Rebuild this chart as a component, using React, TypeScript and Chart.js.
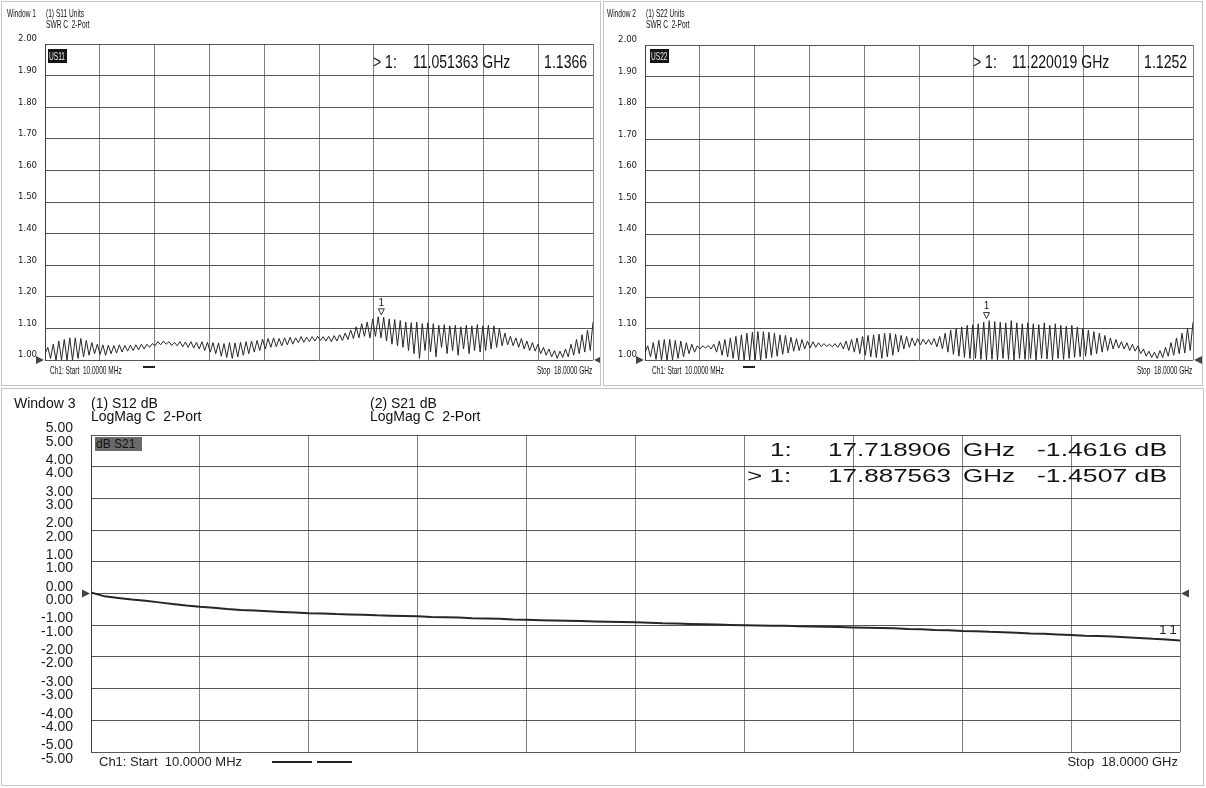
import React, { useEffect, useRef } from "react";
import { Chart, registerables } from "chart.js";
Chart.register(...registerables);

// ---- sweep ----
const START_GHZ = 0.01;
const STOP_GHZ = 18;

// ---- tick labels ----
const swrTickValues = [1.0, 1.1, 1.2, 1.3, 1.4, 1.5, 1.6, 1.7, 1.8, 1.9, 2.0];
const swrTickLabels = ["1.00", "1.10", "1.20", "1.30", "1.40", "1.50", "1.60", "1.70", "1.80", "1.90", "2.00"];
const dbTickValues = [-5, -4, -3, -2, -1, 0, 1, 2, 3, 4, 5];
const dbTickLabels = ["-5.00", "-4.00", "-3.00", "-2.00", "-1.00", "0.00", "1.00", "2.00", "3.00", "4.00", "5.00"];

// ---- Window 1 : S11 SWR (trough/peak pairs, 10 cycles per division) ----
const s11Swr = [
  1.02, 1.04, 1.005, 1.05, 1.0, 1.06, 1.0, 1.065, 1.0, 1.07, 1.0, 1.07, 1.005, 1.068, 1.01, 1.062, 1.015, 1.055, 1.02, 1.05,
  1.018, 1.048, 1.015, 1.047, 1.02, 1.046, 1.022, 1.048, 1.025, 1.046, 1.028, 1.047, 1.03, 1.048, 1.032, 1.05, 1.035, 1.05, 1.04, 1.052,
  1.045, 1.058, 1.048, 1.06, 1.05, 1.058, 1.046, 1.056, 1.045, 1.058, 1.042, 1.057, 1.04, 1.058, 1.038, 1.056, 1.035, 1.058, 1.03, 1.056,
  1.025, 1.055, 1.02, 1.054, 1.012, 1.052, 1.008, 1.055, 1.005, 1.054, 1.01, 1.056, 1.015, 1.058, 1.02, 1.06, 1.025, 1.062, 1.03, 1.066,
  1.035, 1.068, 1.04, 1.07, 1.042, 1.068, 1.045, 1.07, 1.048, 1.072, 1.05, 1.07, 1.055, 1.074, 1.056, 1.072, 1.058, 1.074, 1.06, 1.075,
  1.062, 1.074, 1.06, 1.075, 1.058, 1.077, 1.06, 1.08, 1.062, 1.085, 1.065, 1.095, 1.068, 1.105, 1.07, 1.115, 1.075, 1.12, 1.07, 1.13,
  1.075, 1.137, 1.07, 1.135, 1.06, 1.13, 1.05, 1.128, 1.045, 1.125, 1.04, 1.12, 1.03, 1.118, 1.02, 1.12, 1.005, 1.115, 1.03, 1.118,
  1.025, 1.115, 1.01, 1.11, 1.04, 1.112, 1.02, 1.108, 1.03, 1.11, 1.015, 1.105, 1.035, 1.11, 1.02, 1.108, 1.03, 1.112, 1.025, 1.108,
  1.03, 1.11, 1.035, 1.108, 1.04, 1.1, 1.045, 1.085, 1.048, 1.075, 1.045, 1.07, 1.04, 1.068, 1.035, 1.06, 1.03, 1.055, 1.028, 1.05,
  1.02, 1.04, 1.015, 1.035, 1.01, 1.03, 1.005, 1.028, 1.008, 1.035, 1.01, 1.05, 1.015, 1.065, 1.02, 1.08, 1.025, 1.095, 1.03, 1.12,
];
const s11MarkerFreq = [11.051363];
const s11MarkerValue = [1.1366];

// ---- Window 2 : S22 SWR ----
const s22Swr = [
  1.025, 1.045, 1.01, 1.055, 1.002, 1.062, 1.0, 1.065, 1.0, 1.065, 1.0, 1.062, 1.005, 1.06, 1.01, 1.055, 1.02, 1.05, 1.025, 1.045,
  1.035, 1.045, 1.038, 1.046, 1.035, 1.05, 1.025, 1.06, 1.015, 1.065, 1.01, 1.07, 1.005, 1.075, 1.0, 1.08, 1.0, 1.085, 1.0, 1.088,
  1.0, 1.09, 1.0, 1.09, 1.005, 1.088, 1.008, 1.085, 1.012, 1.08, 1.018, 1.078, 1.022, 1.072, 1.028, 1.068, 1.03, 1.065, 1.035, 1.06,
  1.038, 1.058, 1.04, 1.055, 1.042, 1.052, 1.043, 1.05, 1.042, 1.052, 1.04, 1.055, 1.035, 1.06, 1.03, 1.065, 1.025, 1.07, 1.02, 1.075,
  1.015, 1.078, 1.01, 1.08, 1.008, 1.082, 1.005, 1.085, 1.01, 1.085, 1.015, 1.082, 1.025, 1.078, 1.035, 1.075, 1.04, 1.07, 1.045, 1.068,
  1.048, 1.066, 1.05, 1.065, 1.048, 1.068, 1.042, 1.075, 1.035, 1.085, 1.025, 1.095, 1.018, 1.1, 1.012, 1.105, 1.008, 1.11, 1.005, 1.112,
  1.005, 1.115, 1.002, 1.12, 1.0, 1.125, 1.002, 1.122, 1.0, 1.12, 1.005, 1.118, 1.002, 1.125, 1.0, 1.118, 1.005, 1.115, 1.002, 1.118,
  1.005, 1.115, 1.0, 1.112, 1.005, 1.118, 1.003, 1.11, 1.0, 1.115, 1.005, 1.11, 1.002, 1.108, 1.005, 1.11, 1.008, 1.105, 1.01, 1.1,
  1.012, 1.095, 1.015, 1.09, 1.02, 1.085, 1.025, 1.078, 1.03, 1.07, 1.035, 1.065, 1.038, 1.058, 1.035, 1.055, 1.03, 1.05, 1.028, 1.045,
  1.02, 1.035, 1.012, 1.028, 1.008, 1.025, 1.005, 1.03, 1.008, 1.04, 1.012, 1.055, 1.015, 1.07, 1.02, 1.085, 1.022, 1.1, 1.03, 1.12,
];
const s22MarkerFreq = [11.220019];
const s22MarkerValue = [1.1252];

// ---- Window 3 : S21 dB ----
const s21Db = [
  0.03, -0.09, -0.14, -0.19, -0.23, -0.28, -0.33, -0.38, -0.42, -0.45,
  -0.49, -0.52, -0.54, -0.56, -0.58, -0.6, -0.62, -0.63, -0.65, -0.66,
  -0.67, -0.69, -0.7, -0.71, -0.72, -0.74, -0.75, -0.76, -0.78, -0.79,
  -0.8, -0.82, -0.83, -0.84, -0.85, -0.86, -0.87, -0.88, -0.89, -0.9,
  -0.91, -0.92, -0.94, -0.95, -0.96, -0.97, -0.98, -0.99, -1.0, -1.01,
  -1.02, -1.02, -1.03, -1.04, -1.05, -1.06, -1.07, -1.08, -1.09, -1.1,
  -1.12, -1.13, -1.15, -1.16, -1.18, -1.19, -1.21, -1.22, -1.24, -1.26,
  -1.27, -1.29, -1.31, -1.33, -1.34, -1.36, -1.38, -1.4, -1.43, -1.45, -1.48,
];
const s21MarkerFreq = [17.718906, 17.887563];
const s21MarkerValue = [-1.4616, -1.4507];

// ---- helpers ----
const SANS = "'Liberation Sans', Arial, Helvetica, sans-serif";
const NARROW = "'Liberation Sans Narrow', 'Arial Narrow', 'DejaVu Sans Condensed', 'Liberation Sans', Arial, sans-serif";

function sweep(n: number): number[] {
  return Array.from({ length: n }, (_, i) => START_GHZ + (i * (STOP_GHZ - START_GHZ)) / (n - 1));
}
function divisionTicks(): number[] {
  return Array.from({ length: 11 }, (_, k) => START_GHZ + (k * (STOP_GHZ - START_GHZ)) / 10);
}

type Cfg = {
  values: number[];
  tickValues: number[];
  tickLabels: string[];
  multiLabel: boolean;
  yMin: number;
  yMax: number;
  yWidth: number;
  padding: { top: number; right: number; bottom: number; left: number };
  labelPad: number;
  labelOffset: number;
  font: { family: string; size: number; lineHeight?: number };
  lineWidth: number;
  markerFreq: number[];
  markerValue: number[];
  refValue: number;
  markerStyle: "swr" | "db";
};

function buildConfig(c: Cfg): any {
  const f = sweep(c.values.length);
  const overlay = {
    id: "vnaOverlay",
    afterDatasetsDraw(chart: any) {
      const ctx = chart.ctx;
      const xs = chart.scales.x;
      const ys = chart.scales.y;
      const area = chart.chartArea;
      ctx.save();
      // reference-level arrows
      const ry = ys.getPixelForValue(c.refValue);
      ctx.fillStyle = "#444";
      ctx.beginPath();
      ctx.moveTo(area.left - 9, ry - 4);
      ctx.lineTo(area.left - 1, ry);
      ctx.lineTo(area.left - 9, ry + 4);
      ctx.closePath();
      ctx.fill();
      ctx.beginPath();
      ctx.moveTo(area.right + 9, ry - 4);
      ctx.lineTo(area.right + 1, ry);
      ctx.lineTo(area.right + 9, ry + 4);
      ctx.closePath();
      ctx.fill();
      // markers
      ctx.fillStyle = "#222";
      ctx.strokeStyle = "#333";
      ctx.lineWidth = 1;
      ctx.textAlign = "center";
      ctx.textBaseline = "bottom";
      for (let i = 0; i < c.markerFreq.length; i++) {
        const px = xs.getPixelForValue(c.markerFreq[i]);
        const py = ys.getPixelForValue(c.markerValue[i]);
        if (c.markerStyle === "swr") {
          ctx.beginPath();
          ctx.moveTo(px - 3, py - 8);
          ctx.lineTo(px + 3, py - 8);
          ctx.lineTo(px, py - 2);
          ctx.closePath();
          ctx.stroke();
          ctx.font = "10px " + SANS;
          ctx.fillText("1", px, py - 9);
        } else {
          ctx.font = "13px " + SANS;
          ctx.fillText("1", px, py - 3);
        }
      }
      ctx.restore();
    },
  };
  return {
    type: "line",
    data: {
      datasets: [
        {
          data: c.values.map((v, i) => ({ x: f[i], y: v })),
          borderColor: "#262626",
          borderWidth: c.lineWidth,
          pointRadius: 0,
          tension: 0,
          fill: false,
        },
      ],
    },
    options: {
      responsive: false,
      animation: false,
      devicePixelRatio: 1,
      parsing: false,
      layout: { padding: c.padding },
      plugins: { legend: { display: false }, tooltip: { enabled: false }, title: { display: false } },
      scales: {
        x: {
          type: "linear",
          min: START_GHZ,
          max: STOP_GHZ,
          afterBuildTicks: (s: any) => {
            s.ticks = divisionTicks().map((v) => ({ value: v }));
          },
          afterFit: (s: any) => {
            s.height = 0;
          },
          ticks: { display: false },
          grid: { color: "rgba(95,95,95,0.8)", lineWidth: 1, drawTicks: false },
          border: { display: false },
        },
        y: {
          type: "linear",
          min: c.yMin,
          max: c.yMax,
          afterBuildTicks: (s: any) => {
            s.ticks = c.tickValues.map((v) => ({ value: v }));
          },
          afterFit: (s: any) => {
            s.width = c.yWidth;
          },
          ticks: {
            padding: c.labelPad,
            labelOffset: c.labelOffset,
            color: "#1a1a1a",
            font: c.font,
            callback: (_v: any, i: number) => (c.multiLabel ? [c.tickLabels[i], c.tickLabels[i]] : c.tickLabels[i]),
          },
          grid: { color: "rgba(55,55,55,0.85)", lineWidth: 1, drawTicks: false },
          border: { display: true, color: "rgba(55,55,55,0.9)" },
        },
      },
    },
    plugins: [overlay],
  };
}

function ChartBox({ left, top, width, height, cfg }: { left: number; top: number; width: number; height: number; cfg: Cfg }) {
  const ref = useRef<HTMLCanvasElement>(null);
  useEffect(() => {
    const chart = new Chart(ref.current as HTMLCanvasElement, buildConfig(cfg));
    return () => chart.destroy();
  }, []);
  return <canvas ref={ref} width={width} height={height} style={{ position: "absolute", left, top, width, height }} />;
}

type TP = { x: number; y: number; size: number; text: string; sx?: number; right?: boolean; weight?: number; color?: string; family?: string };
function T({ x, y, size, text, sx = 1, right = false, weight = 400, color = "#111", family = SANS }: TP) {
  const style: React.CSSProperties = {
    position: "absolute",
    top: y - 0.13 * size,
    fontFamily: family,
    fontSize: size,
    lineHeight: 1,
    fontWeight: weight,
    color,
    whiteSpace: "pre",
    transform: `scaleX(${sx})`,
    transformOrigin: right ? "right top" : "left top",
  };
  if (right) style.right = 1206 - x;
  else style.left = x;
  return <div style={style}>{text}</div>;
}

function Badge({ x, y, w, h, text, bg, color, size, sx }: { x: number; y: number; w: number; h: number; text: string; bg: string; color: string; size: number; sx: number }) {
  return (
    <div style={{ position: "absolute", left: x, top: y, width: w, height: h, background: bg, overflow: "hidden" }}>
      <div style={{ position: "absolute", left: 1, top: (h - size) / 2, fontFamily: SANS, fontSize: size, lineHeight: 1, color, whiteSpace: "pre", transform: `scaleX(${sx})`, transformOrigin: "left top" }}>{text}</div>
    </div>
  );
}

function Dash({ x1, x2, y }: { x1: number; x2: number; y: number }) {
  return <div style={{ position: "absolute", left: x1, top: y, width: x2 - x1, height: 2, background: "#222" }} />;
}

const w1: Cfg = {
  values: s11Swr, tickValues: swrTickValues, tickLabels: swrTickLabels, multiLabel: false,
  yMin: 1, yMax: 2, yWidth: 45, padding: { top: 44, right: 7, bottom: 25, left: 0 },
  labelPad: 8, labelOffset: -5, font: { family: NARROW, size: 9.5 }, lineWidth: 1,
  markerFreq: s11MarkerFreq, markerValue: s11MarkerValue, refValue: 1, markerStyle: "swr",
};
const w2: Cfg = {
  values: s22Swr, tickValues: swrTickValues, tickLabels: swrTickLabels, multiLabel: false,
  yMin: 1, yMax: 2, yWidth: 42, padding: { top: 45, right: 13, bottom: 25, left: 0 },
  labelPad: 8, labelOffset: -5, font: { family: NARROW, size: 9.5 }, lineWidth: 1,
  markerFreq: s22MarkerFreq, markerValue: s22MarkerValue, refValue: 1, markerStyle: "swr",
};
const w3: Cfg = {
  values: s21Db, tickValues: dbTickValues, tickLabels: dbTickLabels, multiLabel: true,
  yMin: -5, yMax: 5, yWidth: 91, padding: { top: 47, right: 26, bottom: 36, left: 0 },
  labelPad: 18, labelOffset: 0, font: { family: SANS, size: 14, lineHeight: 0.95 }, lineWidth: 2,
  markerFreq: s21MarkerFreq, markerValue: s21MarkerValue, refValue: 0, markerStyle: "db",
};

export default function App() {
  const frame = "1px solid #c4c4c4";
  return (
    <div style={{ position: "absolute", left: 0, top: 0, width: 1206, height: 788, background: "#fff", overflow: "hidden" }}>
      <div style={{ position: "absolute", left: 1, top: 1, width: 598, height: 383, border: frame }} />
      <div style={{ position: "absolute", left: 603, top: 1, width: 598, height: 383, border: frame }} />
      <div style={{ position: "absolute", left: 1, top: 388, width: 1201, height: 396, border: frame }} />

      <ChartBox left={0} top={0} width={600} height={385} cfg={w1} />
      <ChartBox left={603} top={0} width={603} height={385} cfg={w2} />
      <ChartBox left={0} top={388} width={1206} height={400} cfg={w3} />

      {/* Window 1 */}
      <T x={7} y={9} size={11} sx={0.6} text="Window 1" />
      <T x={46} y={9} size={11} sx={0.6} text="(1) S11 Units" />
      <T x={46} y={20} size={11} sx={0.6} text="SWR C  2-Port" />
      <Badge x={48} y={49} w={19} h={14} text="US11" bg="#151515" color="#eee" size={11} sx={0.6} />
      <T x={373} y={55} size={18} sx={0.78} text="> 1:" />
      <T x={413} y={55} size={18} sx={0.78} text="11.051363 GHz" />
      <T x={587} y={55} size={18} sx={0.78} right text="1.1366" />
      <T x={50} y={366} size={10.5} sx={0.62} text="Ch1: Start  10.0000 MHz" />
      <Dash x1={143} x2={155} y={366} />
      <T x={592} y={366} size={10.5} sx={0.62} right text="Stop  18.0000 GHz" />

      {/* Window 2 */}
      <T x={607} y={9} size={11} sx={0.6} text="Window 2" />
      <T x={646} y={9} size={11} sx={0.6} text="(1) S22 Units" />
      <T x={646} y={20} size={11} sx={0.6} text="SWR C  2-Port" />
      <Badge x={650} y={49} w={19} h={14} text="US22" bg="#151515" color="#eee" size={11} sx={0.6} />
      <T x={973} y={55} size={18} sx={0.78} text="> 1:" />
      <T x={1012} y={55} size={18} sx={0.78} text="11.220019 GHz" />
      <T x={1187} y={55} size={18} sx={0.78} right text="1.1252" />
      <T x={652} y={366} size={10.5} sx={0.62} text="Ch1: Start  10.0000 MHz" />
      <Dash x1={743} x2={755} y={366} />
      <T x={1192} y={366} size={10.5} sx={0.62} right text="Stop  18.0000 GHz" />

      {/* Window 3 */}
      <T x={14} y={398} size={14} text="Window 3" />
      <T x={91} y={398} size={14} text="(1) S12 dB" />
      <T x={91} y={411} size={14} text="LogMag C  2-Port" />
      <T x={370} y={398} size={14} text="(2) S21 dB" />
      <T x={370} y={411} size={14} text="LogMag C  2-Port" />
      <Badge x={95} y={437} w={47} h={14} text="dB S21" bg="#6a6a6a" color="#111" size={12} sx={1} />
      <T x={770} y={442} size={19} sx={1.37} text="1:" />
      <T x={828} y={442} size={19} sx={1.37} text="17.718906" />
      <T x={963} y={442} size={19} sx={1.37} text="GHz" />
      <T x={1037} y={442} size={19} sx={1.4} text="-1.4616 dB" />
      <T x={747} y={468} size={19} sx={1.37} text="> 1:" />
      <T x={828} y={468} size={19} sx={1.37} text="17.887563" />
      <T x={963} y={468} size={19} sx={1.37} text="GHz" />
      <T x={1037} y={468} size={19} sx={1.4} text="-1.4507 dB" />
      <T x={99} y={757} size={13} text="Ch1: Start  10.0000 MHz" color="#222" />
      <Dash x1={272} x2={312} y={761} />
      <Dash x1={317} x2={352} y={761} />
      <T x={1178} y={757} size={13} right text="Stop  18.0000 GHz" color="#222" />
    </div>
  );
}
